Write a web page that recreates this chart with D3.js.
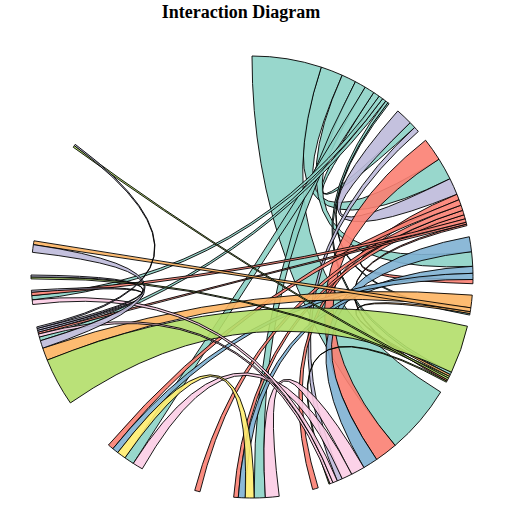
<!DOCTYPE html>
<html>
<head>
<meta charset="utf-8">
<title>Interaction Diagram</title>
<script src="https://cdn.jsdelivr.net/npm/d3@7"></script>
<style>
    body { margin: 0; background: #fff; }
    .title { font-family: "Liberation Serif", "Times New Roman", serif; font-weight: bold; font-size: 18px; }
    .ribbon { stroke: #000; stroke-width: 0.9; fill-opacity: 0.9; }
</style>
</head>
<body>
<div id="chart"></div>
<script>
    var width = 512,
        height = 512,
        radius = 221;

    // 55 nodes round the circle, most of them have no links at all
    var nodeCount = 55;

    // nodes that are the source of at least one link, and their colour
    var colorNodes = [0, 1, 2, 3, 4, 5, 6, 10, 23];
    var colorValues = ["#8dd3c7", "#bebada", "#fb8072", "#80b1d3", "#fdb462",
                       "#b3de69", "#fccde5", "#ffed6f", "#bebada"];

    // links (undirected): source node, target node, weight
    var linkSource = [0, 0, 0, 0, 0, 0, 0, 0, 0, 0,
                      1, 1,
                      2, 2, 2, 2, 2, 2, 2, 2, 2,
                      3, 3, 3,
                      4, 4, 4,
                      5, 5, 5, 5,
                      6, 6, 6, 6,
                      10,
                      23, 23, 23, 23];
    var linkTarget = [6, 2, 3, 10, 18, 1, 25, 23, 5, 4,
                      2, 6,
                      6, 18, 7, 13, 10, 3, 25, 23, 5,
                      6, 10, 18,
                      23, 28, 5,
                      23, 26, 37, 6,
                      10, 18, 25, 23,
                      18,
                      28, 25, 26, 37];
    var linkValue  = [18.2, 5.8, 3.8, 2.9, 2.6, 1.7, 1.1, 1.0, 0.7, 0.4,
                      4.4, 1.4,
                      6.0, 1.5, 1.5, 1.4, 1.2, 1.1, 0.9, 0.5, 0.4,
                      3.9, 1.8, 1.6,
                      3.3, 1.0, 0.5,
                      12.6, 0.5, 0.5, 0.3,
                      3.6, 2.7, 1.2, 0.8,
                      2.3,
                      2.0, 0.5, 0.5, 0.4];

    // square matrix for d3.chord
    var matrix = d3.range(nodeCount).map(function() {
        return d3.range(nodeCount).map(function() { return 0; });
    });
    linkSource.forEach(function(s, i) {
        var t = linkTarget[i];
        matrix[s][t] = linkValue[i];
        matrix[t][s] = linkValue[i];
    });

    var color = d3.scaleOrdinal()
            .domain(colorNodes)
            .range(colorValues)
            .unknown("#d9d9d9");

    var chord = d3.chord()
            .padAngle(0.0515)
            .sortSubgroups(d3.descending);

    var ribbon = d3.ribbon()
            .radius(radius);

    var chords = chord(matrix);

    var svg = d3.select("#chart").append("svg")
            .attr("width", width)
            .attr("height", height);

    svg.append("text")
            .attr("class", "title")
            .attr("x", 241)
            .attr("y", 18)
            .attr("text-anchor", "middle")
            .text("Interaction Diagram");

    svg.append("g")
            .attr("transform", "translate(252,277)")
        .selectAll("path")
            .data(chords)
            .enter().append("path")
            .attr("class", "ribbon")
            .attr("d", ribbon)
            .style("fill", function(d) { return color(d.source.index); });
</script>
</body>
</html>
